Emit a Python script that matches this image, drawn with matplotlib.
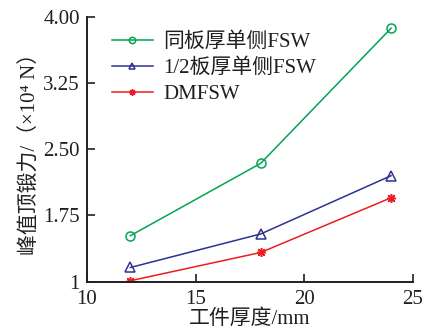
import matplotlib
matplotlib.use("Agg")
import matplotlib.pyplot as plt
from matplotlib.ticker import FixedLocator, FixedFormatter

thickness = [12, 18, 24]
same_plate = [1.52, 2.34, 3.87]
half_plate = [1.16, 1.54, 2.20]
dmfsw = [1.01, 1.33, 1.95]
labels = ["同板厚单侧FSW", "1/2板厚单侧FSW", "DMFSW"]
xticks = [10, 15, 20, 25]
yticks = [1.0, 1.75, 2.5, 3.25, 4.0]
ytick_labels = ["1", "1.75", "2.50", "3.25", "4.00"]

fam = ["Liberation Serif", "Noto Sans CJK SC"]
plt.rcParams["font.family"] = fam

fig = plt.figure(figsize=(4.26, 3.29), dpi=100)
ax = fig.add_axes([0.204, 0.144, 0.765, 0.805])

ax.plot(thickness, same_plate, color="#00a651", lw=1.1, marker="o", ms=6.5,
        mfc="none", mec="#00a651", mew=1.1, label=labels[0])
ax.plot(thickness, half_plate, color="#2e3192", lw=1.1, marker="^", ms=7,
        mfc="none", mec="#2e3192", mew=1.1, label=labels[1])
ax.plot(thickness, dmfsw, color="#ed1c24", lw=1.1, marker=(8, 2, 0), ms=6.5,
        mec="#ed1c24", mew=1.1, label=labels[2])

ax.set_xlim(10, 25)
ax.set_ylim(1, 4)
ax.xaxis.set_major_locator(FixedLocator(xticks))
ax.yaxis.set_major_locator(FixedLocator(yticks))
ax.yaxis.set_major_formatter(FixedFormatter(ytick_labels))
for s in ["top", "right"]:
    ax.spines[s].set_visible(False)
for s in ["left", "bottom"]:
    ax.spines[s].set_linewidth(1.4)
    ax.spines[s].set_color("#231f20")
ax.tick_params(direction="in", length=6, width=1.2, labelsize=15,
               colors="#231f20")
ax.tick_params(axis="x", pad=6)
ax.tick_params(axis="y", pad=5)
for t in ax.get_xticklabels() + ax.get_yticklabels():
    t.set_color("#231f20")

ax.set_xlabel("工件厚度/mm", fontsize=15, color="#231f20", labelpad=0)
ax.set_ylabel("峰值顶锻力/（×10⁴ N）", fontsize=15, color="#231f20", labelpad=2)

leg = ax.legend(loc="upper left", bbox_to_anchor=(0.05, 0.972), frameon=False,
                fontsize=15, handlelength=2.0, handletextpad=0.5,
                labelspacing=0.3, borderaxespad=0.0, markerscale=0.7)
for t in leg.get_texts():
    t.set_color("#231f20")

fig.savefig("out.png", dpi=100)
